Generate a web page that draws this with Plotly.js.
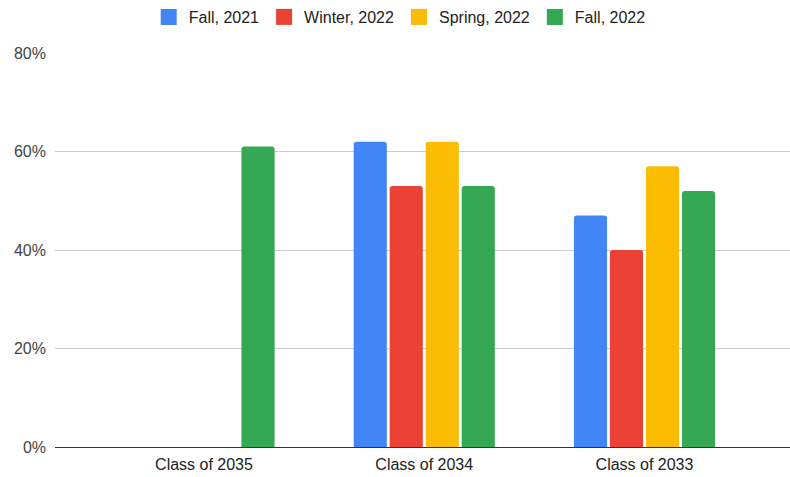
<!DOCTYPE html>
<html>
<head>
<meta charset="utf-8">
<script src="https://cdn.plot.ly/plotly-3.0.1.min.js"></script>
<style>html,body{margin:0;padding:0;background:#fff;}#chart{width:790px;height:477px;}</style>
</head>
<body>
<div id="chart"></div>
<script>
const categories = ["Class of 2035", "Class of 2034", "Class of 2033"];
const seriesNames = ["Fall, 2021", "Winter, 2022", "Spring, 2022", "Fall, 2022"];
const fall2021 = [null, 62, 47];
const winter2022 = [null, 53, 40];
const spring2022 = [null, 62, 57];
const fall2022 = [61, 53, 52];
const colors = ["#4285F4", "#EA4335", "#FBBC04", "#34A853"];
const yTicks = [0, 20, 40, 60, 80];

const allSeries = [fall2021, winter2022, spring2022, fall2022];
const barTraces = allSeries.map((vals, i) => ({
  type: "bar",
  name: seriesNames[i],
  x: categories,
  y: vals,
  marker: {color: colors[i], cornerradius: 3},
  showlegend: false,
  hoverinfo: "none"
}));
// legend-only entries (larger square swatches)
const legendTraces = seriesNames.map((n, i) => ({
  type: "scatter",
  mode: "markers",
  name: n,
  x: [categories[0]],
  y: [null],
  marker: {color: colors[i], symbol: "square", size: 16},
  showlegend: true,
  hoverinfo: "none"
}));

const layout = {
  width: 790,
  height: 477,
  margin: {l: 55, r: 0, t: 53, b: 30},
  paper_bgcolor: "#fff",
  plot_bgcolor: "#fff",
  font: {family: "'Liberation Sans', Arial, sans-serif", size: 16, color: "#444"},
  barmode: "group",
  bargap: 0.346,
  bargroupgap: 0.08,
  showlegend: true,
  legend: {
    orientation: "h",
    x: 0.469, xanchor: "center",
    y: 1, yref: "container", yanchor: "top",
    font: {size: 16, color: "#222"},
    itemwidth: 30,
    traceorder: "normal"
  },
  xaxis: {
    type: "category",
    range: [-0.6765, 2.6606],
    showgrid: false,
    showline: true,
    linecolor: "#333",
    linewidth: 1,
    ticks: "",
    tickfont: {size: 16, color: "#222"},
    ticklabelstandoff: 3,
    zeroline: false,
    fixedrange: true
  },
  yaxis: {
    range: [0, 80],
    tickvals: yTicks,
    ticktext: yTicks.map(v => v + "%"),
    showgrid: true,
    gridcolor: "#ccc",
    gridwidth: 1,
    zeroline: false,
    showline: false,
    ticks: "",
    tickfont: {size: 16, color: "#444"},
    ticklabelstandoff: 8,
    fixedrange: true
  }
};

Plotly.newPlot("chart", barTraces.concat(legendTraces), layout, {displayModeBar: false, staticPlot: true});
</script>
</body>
</html>
